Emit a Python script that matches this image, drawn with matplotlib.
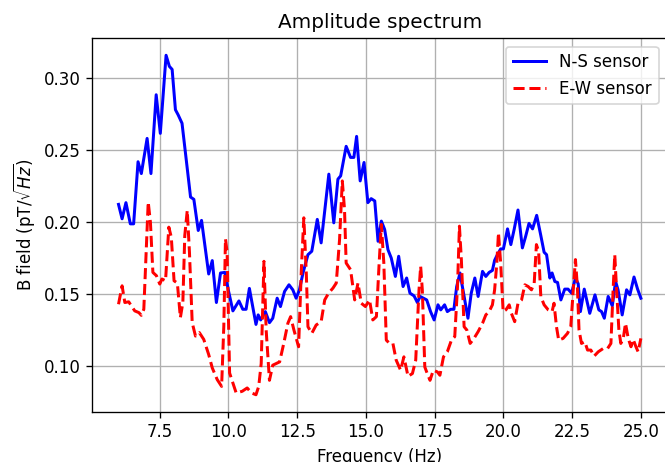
import matplotlib
matplotlib.use("Agg")
import matplotlib.pyplot as plt

# N-S sensor (frequency Hz, B field)
ns_freq = [6.00, 6.13, 6.27, 6.43, 6.55, 6.71, 6.83, 7.04, 7.18, 7.37, 7.52, 7.73, 7.85, 7.95,
           8.07, 8.17, 8.31, 8.43, 8.62, 8.74, 8.90, 9.02, 9.28, 9.41, 9.56, 9.71, 9.87, 10.00,
           10.16, 10.38, 10.52, 10.64, 10.76, 11.00, 11.08, 11.17, 11.34, 11.49, 11.61, 11.77,
           11.89, 12.04, 12.20, 12.34, 12.46, 12.58, 12.71, 12.89, 13.03, 13.23, 13.37, 13.65,
           13.83, 13.98, 14.08, 14.28, 14.44, 14.56, 14.66, 14.79, 14.93, 15.07, 15.19, 15.32,
           15.44, 15.56, 15.68, 15.80, 15.92, 16.07, 16.19, 16.35, 16.48, 16.60, 16.75, 16.87,
           16.97, 17.09, 17.21, 17.35, 17.48, 17.62, 17.72, 17.86, 17.96, 18.08, 18.20, 18.30,
           18.42, 18.57, 18.71, 18.83, 18.96, 19.08, 19.24, 19.36, 19.48, 19.60, 19.68, 19.78,
           19.90, 20.00, 20.15, 20.27, 20.39, 20.53, 20.69, 20.81, 20.93, 21.06, 21.21, 21.36,
           21.48, 21.57, 21.69, 21.77, 21.87, 21.97, 22.09, 22.23, 22.35, 22.48, 22.62, 22.72,
           22.80, 22.94, 23.14, 23.33, 23.47, 23.57, 23.67, 23.81, 23.96, 24.08, 24.17, 24.32,
           24.48, 24.60, 24.75, 24.88, 25.00]
ns_vals = [0.2123, 0.2023, 0.2135, 0.1988, 0.1988, 0.2419, 0.2337, 0.2581, 0.2337, 0.2884, 0.2616,
           0.3158, 0.3081, 0.3060, 0.2780, 0.2744, 0.2686, 0.2488, 0.2174, 0.2158, 0.1942, 0.2012,
           0.1640, 0.1733, 0.1442, 0.1647, 0.1651, 0.1523, 0.1384, 0.1453, 0.1395, 0.1395, 0.1540,
           0.1290, 0.1356, 0.1321, 0.1379, 0.1302, 0.1333, 0.1472, 0.1414, 0.1519, 0.1565, 0.1530,
           0.1472, 0.1530, 0.1647, 0.1774, 0.1798, 0.2019, 0.1856, 0.2333, 0.1995, 0.2298, 0.2321,
           0.2526, 0.2449, 0.2449, 0.2595, 0.2286, 0.2414, 0.2135, 0.2163, 0.2147, 0.1867, 0.2007,
           0.1949, 0.1809, 0.1751, 0.1623, 0.1763, 0.1553, 0.1612, 0.1507, 0.1488, 0.1442, 0.1484,
           0.1472, 0.1460, 0.1379, 0.1321, 0.1426, 0.1391, 0.1426, 0.1379, 0.1395, 0.1395, 0.1553,
           0.1647, 0.1484, 0.1333, 0.1507, 0.1612, 0.1484, 0.1658, 0.1623, 0.1651, 0.1665, 0.1735,
           0.1774, 0.1814, 0.1814, 0.1953, 0.1844, 0.1949, 0.2084, 0.1821, 0.1902, 0.1991, 0.1953,
           0.2047, 0.1907, 0.1791, 0.1774, 0.1612, 0.1647, 0.1588, 0.1581, 0.1460, 0.1535, 0.1535,
           0.1507, 0.1612, 0.1572, 0.1379, 0.1535, 0.1367, 0.1495, 0.1391, 0.1379, 0.1333, 0.1484,
           0.1419, 0.1588, 0.1530, 0.1356, 0.1530, 0.1495, 0.1619, 0.1535, 0.1472]

# E-W sensor (frequency Hz, B field)
ew_freq = [6.00, 6.13, 6.23, 6.37, 6.59, 6.74, 6.83, 6.92, 7.08, 7.16, 7.25, 7.38, 7.50, 7.58,
           7.71, 7.83, 7.92, 8.02, 8.14, 8.25, 8.34, 8.41, 8.50, 8.58, 8.68, 8.80, 8.94, 9.10,
           9.28, 9.41, 9.59, 9.75, 9.83, 9.89, 9.95, 10.04, 10.16, 10.28, 10.50, 10.68, 10.84,
           11.00, 11.10, 11.19, 11.29, 11.37, 11.49, 11.61, 11.74, 11.86, 12.01, 12.16, 12.26,
           12.38, 12.55, 12.65, 12.74, 12.83, 12.89, 13.03, 13.19, 13.37, 13.50, 13.64, 13.80,
           13.92, 14.04, 14.14, 14.22, 14.28, 14.44, 14.59, 14.71, 14.83, 14.98, 15.13, 15.25,
           15.38, 15.48, 15.56, 15.65, 15.74, 15.86, 15.98, 16.10, 16.26, 16.38, 16.53, 16.69,
           16.81, 16.93, 16.99, 17.05, 17.14, 17.23, 17.33, 17.45, 17.60, 17.69, 17.82, 17.96,
           18.11, 18.23, 18.33, 18.40, 18.47, 18.57, 18.67, 18.79, 18.93, 19.08, 19.24, 19.36,
           19.48, 19.60, 19.68, 19.76, 19.82, 19.90, 19.99, 20.09, 20.21, 20.29, 20.41, 20.53,
           20.66, 20.78, 20.90, 21.02, 21.12, 21.20, 21.28, 21.36, 21.48, 21.63, 21.77, 21.84,
           21.93, 22.01, 22.17, 22.33, 22.45, 22.54, 22.62, 22.69, 22.75, 22.84, 22.96, 23.06,
           23.18, 23.30, 23.45, 23.63, 23.79, 23.91, 23.99, 24.05, 24.11, 24.20, 24.27, 24.36,
           24.44, 24.54, 24.64, 24.72, 24.82, 24.90, 25.00]
ew_vals = [0.1430, 0.1558, 0.1442, 0.1447, 0.1384, 0.1372, 0.1353, 0.1395, 0.2140, 0.2000, 0.1651,
           0.1628, 0.1570, 0.1605, 0.1593, 0.1965, 0.1895, 0.1593, 0.1577, 0.1337, 0.1442, 0.1907,
           0.2081, 0.1791, 0.1302, 0.1209, 0.1233, 0.1186, 0.1081, 0.0988, 0.0907, 0.0860, 0.1279,
           0.1884, 0.1791, 0.0953, 0.0884, 0.0814, 0.0826, 0.0849, 0.0814, 0.0802, 0.0860, 0.1019,
           0.1728, 0.1251, 0.0902, 0.1007, 0.1019, 0.1030, 0.1158, 0.1298, 0.1344, 0.1251, 0.1135,
           0.1670, 0.2030, 0.1647, 0.1274, 0.1228, 0.1286, 0.1309, 0.1460, 0.1507, 0.1542, 0.1577,
           0.1879, 0.2286, 0.2088, 0.1716, 0.1670, 0.1460, 0.1577, 0.1437, 0.1414, 0.1460, 0.1321,
           0.1344, 0.1716, 0.1984, 0.1716, 0.1181, 0.1158, 0.1158, 0.1042, 0.0972, 0.1065, 0.0930,
           0.0949, 0.1042, 0.1530, 0.1693, 0.1530, 0.0995, 0.0949, 0.0902, 0.0972, 0.0960, 0.0937,
           0.1065, 0.1100, 0.1181, 0.1205, 0.1553, 0.1972, 0.1740, 0.1274, 0.1251, 0.1158, 0.1193,
           0.1240, 0.1298, 0.1356, 0.1379, 0.1426, 0.1530, 0.1716, 0.1926, 0.1716, 0.1379, 0.1391,
           0.1426, 0.1367, 0.1309, 0.1437, 0.1460, 0.1565, 0.1553, 0.1530, 0.1577, 0.1844, 0.1798,
           0.1484, 0.1426, 0.1391, 0.1379, 0.1437, 0.1274, 0.1181, 0.1193, 0.1228, 0.1274, 0.1530,
           0.1740, 0.1553, 0.1251, 0.1158, 0.1170, 0.1112, 0.1112, 0.1070, 0.1100, 0.1123, 0.1123,
           0.1158, 0.1530, 0.1774, 0.1553, 0.1251, 0.1158, 0.1193, 0.1298, 0.1193, 0.1135, 0.1186,
           0.1135, 0.1100, 0.1193]

yticks = [0.10, 0.15, 0.20, 0.25, 0.30]
xticks = [7.5, 10.0, 12.5, 15.0, 17.5, 20.0, 22.5, 25.0]

dpi = 120
fig = plt.figure(figsize=(665 / dpi, 462 / dpi), dpi=dpi)
ax = fig.add_axes([92.4 / 665, 50.3 / 462, 574.6 / 665, 373.4 / 462])

ax.plot(ns_freq, ns_vals, color="blue", linestyle="-", linewidth=1.8, label="N-S sensor")
ax.plot(ew_freq, ew_vals, color="red", linestyle="--", linewidth=1.8, label="E-W sensor")

ax.set_xticks(xticks)
ax.set_yticks(yticks)
ax.grid(True)
ax.set_title("Amplitude spectrum")
ax.set_xlabel("Frequency (Hz)")
ax.set_ylabel(r"B field (pT/$\sqrt{Hz}$)")
ax.legend(loc="upper right")

fig.savefig("out.png", dpi=dpi)
